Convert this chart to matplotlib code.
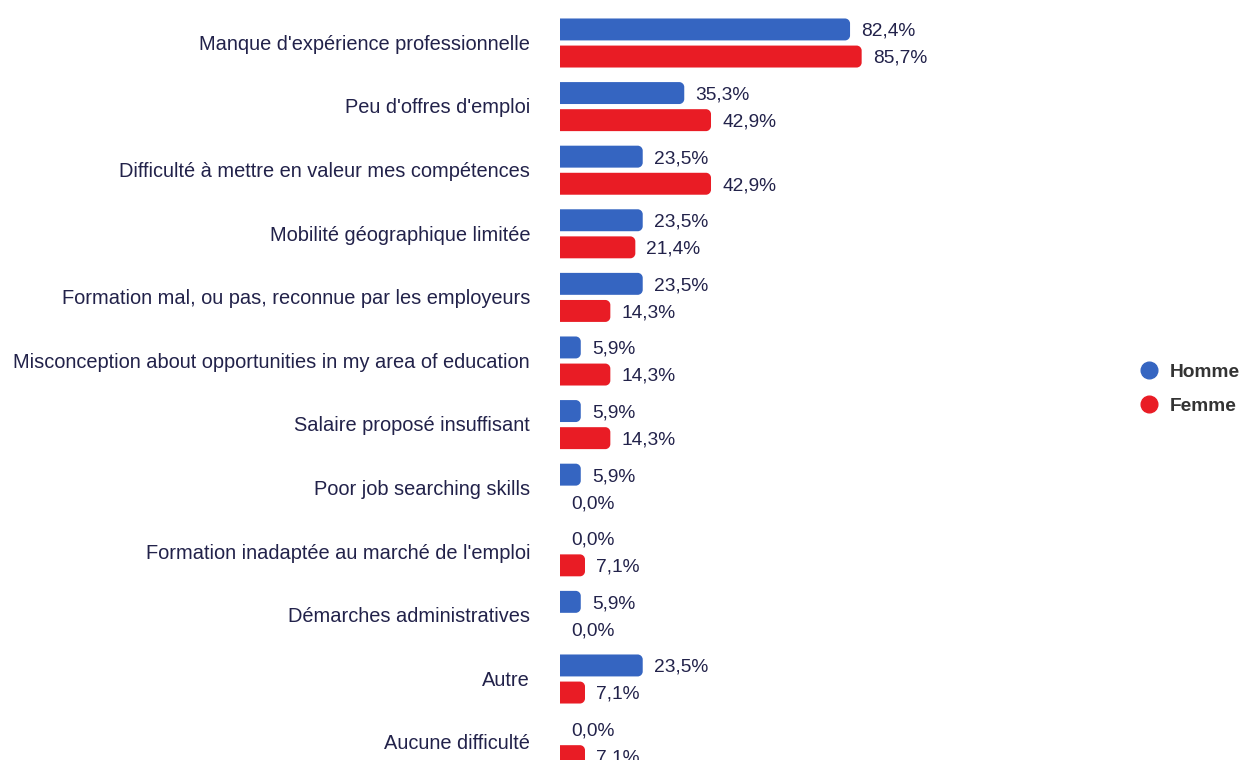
"""Difficultés rencontrées dans la recherche d'emploi, par sexe (barres horizontales)."""

import matplotlib
matplotlib.use("Agg")
import matplotlib.pyplot as plt
from matplotlib.lines import Line2D
from matplotlib.patches import PathPatch
from matplotlib.path import Path

plt.rcParams.update({
    "font.family": ["Liberation Sans", "DejaVu Sans"],
    "figure.facecolor": "white",
    "savefig.facecolor": "white",
})

categories = [
    "Manque d'expérience professionnelle",
    "Peu d'offres d'emploi",
    "Difficulté à mettre en valeur mes compétences",
    "Mobilité géographique limitée",
    "Formation mal, ou pas, reconnue par les employeurs",
    "Misconception about opportunities in my area of education",
    "Salaire proposé insuffisant",
    "Poor job searching skills",
    "Formation inadaptée au marché de l'emploi",
    "Démarches administratives",
    "Autre",
    "Aucune difficulté",
]
homme = [82.4, 35.3, 23.5, 23.5, 23.5, 5.9, 5.9, 5.9, 0.0, 5.9, 23.5, 0.0]
femme = [85.7, 42.9, 42.9, 21.4, 14.3, 14.3, 14.3, 0.0, 7.1, 0.0, 7.1, 7.1]
series = ["Homme", "Femme"]

BLUE = "#3565c1"
RED = "#e91c25"
TXT = "#22224a"

W, H = 1247, 760
PX_PER_PCT = 3.52
GROUP_PX = 63.6
X0_PX = 560
AX_RIGHT_PX = 1100

fig = plt.figure(figsize=(W / 100, H / 100), dpi=100)
ax = fig.add_axes([X0_PX / W, 0, (AX_RIGHT_PX - X0_PX) / W, 1])
ax.set_xlim(0, (AX_RIGHT_PX - X0_PX) / PX_PER_PCT)
y_top = -43 / GROUP_PX
ax.set_ylim(y_top + H / GROUP_PX, y_top)
ax.axis("off")

off, bh = 0.213, 0.345
rx = 5 / PX_PER_PCT
ry = 5 / GROUP_PX
K = 0.5523


def bar(y, v, color):
    # square on the left, rounded on the right
    if v <= 0:
        return
    r = min(rx, v / 2)
    y0, y1 = y - bh / 2, y + bh / 2
    verts = [(0, y0), (v - r, y0),
             (v - r + K * r, y0), (v, y0 + ry - K * ry), (v, y0 + ry),
             (v, y1 - ry),
             (v, y1 - ry + K * ry), (v - r + K * r, y1), (v - r, y1),
             (0, y1), (0, y0)]
    codes = [Path.MOVETO, Path.LINETO,
             Path.CURVE4, Path.CURVE4, Path.CURVE4,
             Path.LINETO,
             Path.CURVE4, Path.CURVE4, Path.CURVE4,
             Path.LINETO, Path.CLOSEPOLY]
    ax.add_patch(PathPatch(Path(verts, codes), fc=color, ec="none"))


for i, (cat, h, f) in enumerate(zip(categories, homme, femme)):
    for v, dy, c in ((h, -off, BLUE), (f, off, RED)):
        bar(i + dy, v, c)
        ax.text(v + 11 / PX_PER_PCT, i + dy + 0.03, f"{v:.1f}%".replace(".", ","),
                ha="left", va="center", fontsize=13.8, color=TXT)
    ax.text(-30 / PX_PER_PCT, i + 0.02, cat, ha="right", va="center",
            fontsize=14.4, color=TXT, clip_on=False)

handles = [Line2D([], [], ls="none", marker="o", ms=12, color=c) for c in (BLUE, RED)]
fig.legend(handles, series, loc="center left", bbox_to_anchor=(1120 / W, 1 - 389 / H),
           frameon=False, prop={"weight": "bold", "size": 13.8},
           labelcolor="#333333", handletextpad=0.5, labelspacing=0.85,
           handlelength=1.2)

plt.savefig("out.png", dpi=100)
plt.close()
